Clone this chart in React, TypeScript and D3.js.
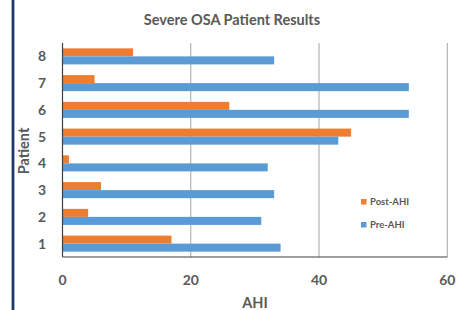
import React from "react";
import * as d3 from "d3";

const patients = ["1", "2", "3", "4", "5", "6", "7", "8"];
const preAHI = [34, 31, 33, 32, 43, 54, 54, 33];
const postAHI = [17, 4, 6, 1, 45, 26, 5, 11];
const xTicks = [0, 20, 40, 60];
const seriesNames = ["Post-AHI", "Pre-AHI"];
const seriesColors = ["#ED7D31", "#5B9BD5"];

const W = 456;
const H = 310;
const left = 62.5;
const right = 447.3;
const top = 43;
const bottom = 257;
const font = "Lato, 'Open Sans', sans-serif";
const textColor = "#595959";

export default function App() {
  const x = d3.scaleLinear().domain([0, 60]).range([left, right]);
  const y = d3
    .scaleBand<string>()
    .domain([...patients].reverse())
    .range([top, bottom])
    .paddingInner(0.4)
    .paddingOuter(0.2);
  const inner = d3
    .scaleBand<string>()
    .domain(seriesNames)
    .range([0, y.bandwidth()]);
  const values = [postAHI, preAHI];

  return (
    <svg
      width={W}
      height={H}
      style={{ position: "absolute", left: 0, top: 0, background: "#fff" }}
    >
      <rect x={0} y={0} width={W} height={H} fill="#fff" />
      <line x1={12.8} x2={12.8} y1={0} y2={H} stroke="#1F3864" strokeWidth={2.4} />
      <line x1={14.5} x2={14.5} y1={0} y2={H} stroke="#9DB3D6" strokeWidth={1} />
      <text
        x={232}
        y={25}
        textAnchor="middle"
        fontFamily={font}
        fontWeight="bold"
        fontSize={14.5}
        fill={textColor}
      >
        Severe OSA Patient Results
      </text>
      {xTicks.slice(1).map((t) => (
        <line
          key={t}
          x1={x(t)}
          x2={x(t)}
          y1={top}
          y2={bottom}
          stroke="#A6A6A6"
          strokeWidth={1}
        />
      ))}
      {patients.map((p, i) =>
        seriesNames.map((s, k) => (
          <rect
            key={p + s}
            x={x(0)}
            y={(y(p) as number) + (inner(s) as number)}
            width={x(values[k][i]) - x(0)}
            height={inner.bandwidth()}
            fill={seriesColors[k]}
          />
        ))
      )}
      <line x1={left} x2={left} y1={top} y2={bottom} stroke="#404040" strokeWidth={1.2} />
      <line x1={left} x2={right} y1={bottom} y2={bottom} stroke="#404040" strokeWidth={1.2} />
      {patients.map((p) => (
        <text
          key={p}
          x={46}
          y={(y(p) as number) + y.bandwidth() / 2}
          dy="0.36em"
          textAnchor="end"
          fontFamily={font}
          fontWeight="bold"
          fontSize={14}
          fill={textColor}
        >
          {p}
        </text>
      ))}
      {xTicks.map((t) => (
        <text
          key={t}
          x={x(t)}
          y={280}
          dy="0.36em"
          textAnchor="middle"
          fontFamily={font}
          fontWeight="bold"
          fontSize={14}
          fill={textColor}
        >
          {t}
        </text>
      ))}
      <text
        x={255}
        y={303}
        dy="0.36em"
        textAnchor="middle"
        fontFamily={font}
        fontWeight="bold"
        fontSize={14.5}
        fill={textColor}
      >
        AHI
      </text>
      <text
        transform={`translate(24,151) rotate(-90)`}
        dy="0.36em"
        textAnchor="middle"
        fontFamily={font}
        fontWeight="bold"
        fontSize={14.5}
        fill={textColor}
      >
        Patient
      </text>
      {seriesNames.map((s, k) => (
        <g key={s} transform={`translate(361, ${199 + k * 23})`}>
          <rect x={0} y={0} width={5.5} height={5.5} fill={seriesColors[k]} />
          <text
            x={9}
            y={2.75}
            dy="0.36em"
            fontFamily={font}
            fontWeight="bold"
            fontSize={9.5}
            fill={textColor}
          >
            {s}
          </text>
        </g>
      ))}
    </svg>
  );
}
